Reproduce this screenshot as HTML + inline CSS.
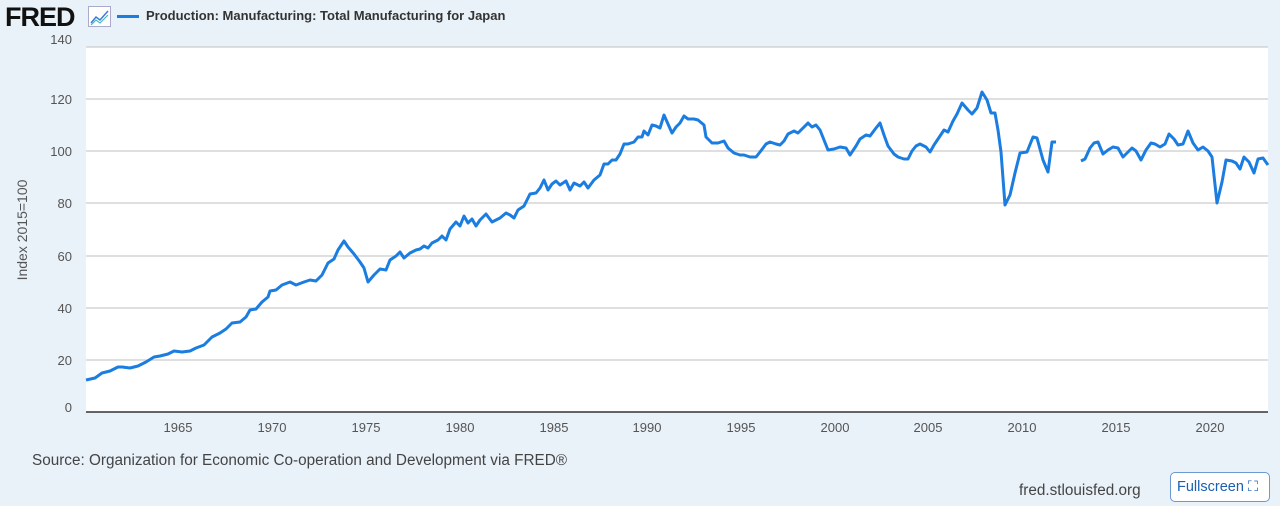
<!DOCTYPE html>
<html><head><meta charset="utf-8"><style>
body{margin:0;width:1280px;height:506px;background:#e9f1f9;font-family:"Liberation Sans",sans-serif;position:relative;overflow:hidden}
.t{position:absolute;white-space:nowrap}
</style></head><body>
<div class="t" style="left:5px;top:2px;font-size:27px;font-weight:bold;color:#111;letter-spacing:-1px">FRED</div>
<svg class="t" style="left:88px;top:6px" width="24" height="22"><rect x="0.5" y="0.5" width="22" height="20" fill="#fff" stroke="#aac"/><polyline points="3,17 8,11 12,14 20,5" fill="none" stroke="#3b7dd8" stroke-width="1.5"/><polyline points="3,19 8,14 12,17 20,9" fill="none" stroke="#4bb" stroke-width="1.2"/></svg>
<div class="t" style="left:117px;top:15px;width:22px;height:3px;background:#1b7de0"></div>
<div class="t" style="left:146px;top:8px;font-size:13px;font-weight:bold;color:#333">Production: Manufacturing: Total Manufacturing for Japan</div>
<svg class="t" style="left:0;top:0" width="1280" height="506">
<rect x="86" y="47" width="1182" height="365" fill="#fff"/>
<g stroke="#ccc" stroke-width="1.3">
<line x1="86" x2="1268" y1="47" y2="47"/><line x1="86" x2="1268" y1="99" y2="99"/><line x1="86" x2="1268" y1="151" y2="151"/><line x1="86" x2="1268" y1="203" y2="203"/><line x1="86" x2="1268" y1="256" y2="256"/><line x1="86" x2="1268" y1="308" y2="308"/><line x1="86" x2="1268" y1="360" y2="360"/></g>
<line x1="86" x2="1268" y1="412" y2="412" stroke="#333" stroke-width="1.5"/>
<g font-size="13" fill="#555" text-anchor="end">
<text x="72" y="44">140</text><text x="72" y="104">120</text><text x="72" y="156">100</text><text x="72" y="208">80</text><text x="72" y="261">60</text><text x="72" y="313">40</text><text x="72" y="365">20</text><text x="72" y="412">0</text></g>
<g font-size="13" fill="#555" text-anchor="middle">
<text x="178" y="432">1965</text><text x="272" y="432">1970</text><text x="366" y="432">1975</text><text x="460" y="432">1980</text><text x="554" y="432">1985</text><text x="647" y="432">1990</text><text x="741" y="432">1995</text><text x="835" y="432">2000</text><text x="928" y="432">2005</text><text x="1022" y="432">2010</text><text x="1116" y="432">2015</text><text x="1210" y="432">2020</text></g>
<text transform="translate(27,230) rotate(-90)" font-size="14" fill="#555" text-anchor="middle">Index 2015=100</text>
<g fill="none" stroke="#1b7de0" stroke-width="3" stroke-linejoin="round">
<polyline points="86,380 95,378 102,373 110,371 118,367 122,367 130,368 138,366 146,362 154,357 160,356 168,354 174,351 182,352 190,351 196,348 204,345 212,337 220,333 226,329 232,323 240,322 246,317 250,310 256,309 262,302 268,297 270,291 276,290 282,285 290,282 296,285 304,282 310,280 316,281 322,275 328,263 334,259 338,250 344,241 348,247 354,254 360,262 364,268 368,282 374,275 380,269 386,270 390,260 396,256 400,252 404,258 410,253 416,250 420,249 424,246 428,248 432,243 438,240 442,236 446,240 450,229 456,222 460,226 464,216 468,223 472,219 476,226 480,220 486,214 492,222 496,220 500,218 506,213 510,215 514,218 518,210 524,206 530,194 536,193 540,188 544,180 548,190 552,184 556,181 560,185 566,181 570,190 574,183 580,186 584,182 588,188 594,180 600,175 604,164 608,164 612,160 616,160 620,154 624,144 628,144 634,142 638,137 642,137 644,131 648,135 652,125 656,126 660,128 664,115 668,124 672,133 676,127 680,123 684,116 688,119 694,119 698,120 704,125 706,137 712,143 718,143 724,141 728,148 734,153 740,155 744,155 750,157 756,157 760,152 766,144 770,142 776,144 780,145 784,141 788,134 794,131 798,133 802,129 808,123 812,127 816,125 820,130 824,140 828,150 834,149 840,147 846,148 850,155 856,146 860,139 866,135 870,136 876,128 880,123 884,135 888,146 894,154 898,157 904,159 908,159 912,151 916,146 920,144 926,147 930,152 934,145 938,139 944,130 948,132 953,121 957,114 962,103 968,110 972,114 977,108 982,92 987,100 991,113 995,113 998,130 1001,152 1005,205 1010,195 1015,173 1020,153 1027,152 1033,137 1037,138 1043,160 1048,172 1052,142 1056,142"/>
<polyline points="1081,161 1085,159 1090,148 1094,143 1098,142 1103,154 1108,150 1113,147 1118,148 1123,157 1127,153 1132,148 1136,151 1141,160 1146,150 1151,143 1155,144 1160,147 1165,144 1169,134 1174,139 1178,145 1183,144 1188,131 1193,143 1198,150 1203,147 1208,151 1212,157 1217,203 1222,182 1226,160 1232,161 1236,163 1240,169 1244,157 1249,162 1254,173 1258,159 1263,158 1268,165"/>
</g></svg>
<div class="t" style="left:32px;top:452px;font-size:15.3px;color:#444">Source: Organization for Economic Co-operation and Development via FRED®</div>
<div class="t" style="left:1019px;top:482px;font-size:15.3px;color:#444">fred.stlouisfed.org</div>
<div class="t" style="left:1170px;top:472px;width:100px;height:30px;border:1px solid #6a9ad0;border-radius:5px;background:#fff;box-sizing:border-box;font-size:14.5px;color:#1b5fb0;line-height:28px;padding-left:6px">Fullscreen ⛶</div>
</body></html>
